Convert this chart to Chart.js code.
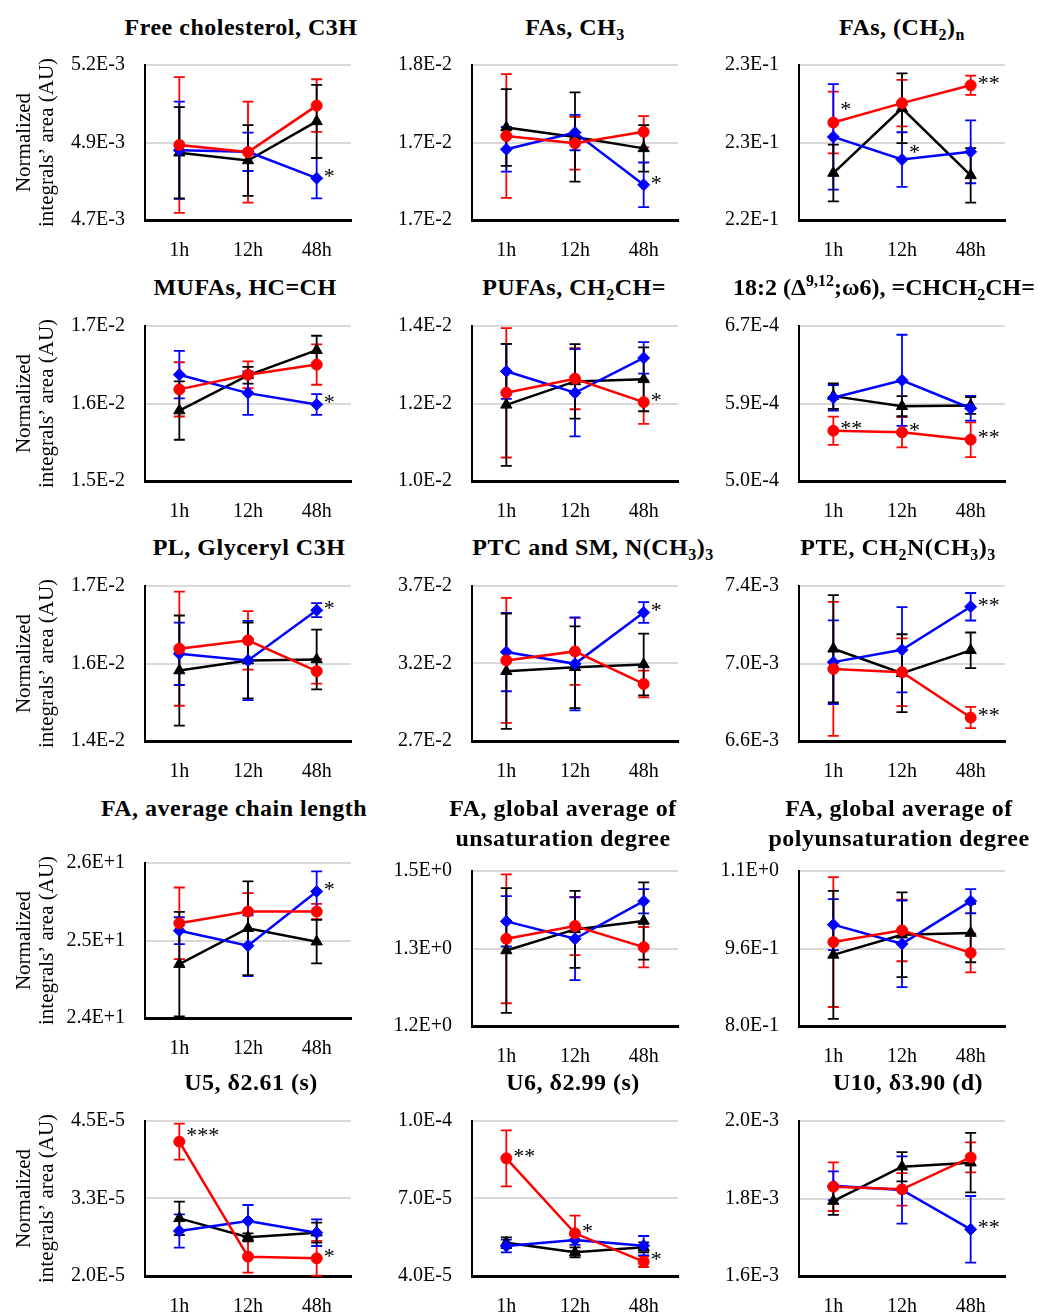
<!DOCTYPE html>
<html>
<head>
<meta charset="utf-8">
<script src="https://cdn.jsdelivr.net/npm/chart.js@4.4.1/dist/chart.umd.min.js"></script>
<style>
  body { margin: 0; background: #fff; width: 1039px; height: 1313px; position: relative; overflow: hidden; }
  .ttl { position: absolute; width: 400px; text-align: center; white-space: nowrap;
         font-family: "Liberation Serif", serif; font-weight: bold; font-size: 24px;
         letter-spacing: 0.5px; line-height: 30px; color: #000; }
  .ttl sub { font-size: 16px; vertical-align: -5px; line-height: 0; }
  .ttl sup { font-size: 16px; vertical-align: 9px; line-height: 0; }
  canvas { position: absolute; }
</style>
</head>
<body>
<script>
// categories and titles
const categories = ['1h', '12h', '48h'];
const panelTitles = [
  'Free cholesterol, C3H',
  'FAs, CH<sub>3</sub>',
  'FAs, (CH<sub>2</sub>)<sub>n</sub>',
  'MUFAs, HC=CH',
  'PUFAs, CH<sub>2</sub>CH=',
  '18:2 (Δ<sup>9,12</sup>;ω6), =CHCH<sub>2</sub>CH=',
  'PL, Glyceryl C3H',
  'PTC and SM, N(CH<sub>3</sub>)<sub>3</sub>',
  'PTE, CH<sub>2</sub>N(CH<sub>3</sub>)<sub>3</sub>',
  'FA, average chain length',
  'FA, global average of<br>unsaturation degree',
  'FA, global average of<br>polyunsaturation degree',
  'U5, δ2.61 (s)',
  'U6, δ2.99 (s)',
  'U10, δ3.90 (d)'
];
const axisTitle = ['Normalized', 'integrals’ area (AU)'];

// y axis ranges and tick labels (bottom, middle, top)
const yMin = [4.65e-3, 1.65e-2, 2.2e-1, 1.5e-2, 1.0e-2, 5.0e-4, 1.4e-2, 2.7e-2, 6.6e-3, 24, 1.2, 0.8, 2.0e-5, 4.0e-5, 1.6e-3];
const yMax = [5.15e-3, 1.75e-2, 2.3e-1, 1.7e-2, 1.4e-2, 6.7e-4, 1.7e-2, 3.7e-2, 7.4e-3, 26, 1.45, 1.12, 4.5e-5, 1.0e-4, 2.0e-3];
const yTickLabels = [
  ['4.7E-3', '4.9E-3', '5.2E-3'],
  ['1.7E-2', '1.7E-2', '1.8E-2'],
  ['2.2E-1', '2.3E-1', '2.3E-1'],
  ['1.5E-2', '1.6E-2', '1.7E-2'],
  ['1.0E-2', '1.2E-2', '1.4E-2'],
  ['5.0E-4', '5.9E-4', '6.7E-4'],
  ['1.4E-2', '1.6E-2', '1.7E-2'],
  ['2.7E-2', '3.2E-2', '3.7E-2'],
  ['6.6E-3', '7.0E-3', '7.4E-3'],
  ['2.4E+1', '2.5E+1', '2.6E+1'],
  ['1.2E+0', '1.3E+0', '1.5E+0'],
  ['8.0E-1', '9.6E-1', '1.1E+0'],
  ['2.0E-5', '3.3E-5', '4.5E-5'],
  ['4.0E-5', '7.0E-5', '1.0E-4'],
  ['1.6E-3', '1.8E-3', '2.0E-3']
];

// black triangles
const blackMean = [
  [4.867e-3, 4.842e-3, 4.968e-3],
  [1.7097e-2, 1.7036e-2, 1.6962e-2],
  [2.2303e-1, 2.2721e-1, 2.2288e-1],
  [1.5909e-2, 1.6364e-2, 1.6688e-2],
  [1.1965e-2, 1.2570e-2, 1.2623e-2],
  [5.931e-4, 5.820e-4, 5.828e-4],
  [1.5364e-2, 1.5558e-2, 1.5578e-2],
  [3.150e-2, 3.176e-2, 3.194e-2],
  [7.076e-3, 6.950e-3, 7.068e-3],
  [24.695, 25.158, 24.985],
  [1.3218, 1.3558, 1.3694],
  [0.9468, 0.9884, 0.9919],
  [2.930e-5, 2.624e-5, 2.699e-5],
  [5.29e-5, 4.916e-5, 5.11e-5],
  [1.7935e-3, 1.882e-3, 1.8925e-3]
];
const blackErr = [
  [0.147e-3, 0.114e-3, 0.118e-3],
  [0.0248e-2, 0.0288e-2, 0.015e-2],
  [0.0183e-1, 0.0225e-1, 0.0176e-1],
  [0.0377e-2, 0.0108e-2, 0.0186e-2],
  [0.1576e-2, 0.0961e-2, 0.0823e-2],
  [0.14e-4, 0.11e-4, 0.092e-4],
  [0.1065e-2, 0.0734e-2, 0.0578e-2],
  [0.372e-2, 0.264e-2, 0.199e-2],
  [0.277e-3, 0.201e-3, 0.092e-3],
  [0.674, 0.605, 0.281],
  [0.1006, 0.0622, 0.0622],
  [0.132, 0.0873, 0.0603],
  [0.269e-5, 0.065e-5, 0.161e-5],
  [0.206e-5, 0.19e-5, 0.19e-5],
  [0.036e-3, 0.0378e-3, 0.0766e-3]
];

// blue diamonds
const blueMean = [
  [4.875e-3, 4.870e-3, 4.785e-3],
  [1.6956e-2, 1.7064e-2, 1.6727e-2],
  [2.2536e-1, 2.2390e-1, 2.2440e-1],
  [1.6372e-2, 1.6134e-2, 1.5987e-2],
  [1.2831e-2, 1.2277e-2, 1.3177e-2],
  [5.913e-4, 6.104e-4, 5.798e-4],
  [1.5688e-2, 1.5558e-2, 1.6532e-2],
  [3.274e-2, 3.198e-2, 3.529e-2],
  [7.007e-3, 7.071e-3, 7.293e-3],
  [25.127, 24.933, 25.633],
  [1.3688, 1.3407, 1.4013],
  [1.0092, 0.9697, 1.0577],
  [2.726e-5, 2.887e-5, 2.699e-5],
  [5.161e-5, 5.394e-5, 5.174e-5],
  [1.833e-3, 1.8219e-3, 1.7204e-3]
];
const blueErr = [
  [0.157e-3, 0.062e-3, 0.065e-3],
  [0.0144e-2, 0.0114e-2, 0.0144e-2],
  [0.034e-1, 0.0176e-1, 0.0203e-1],
  [0.0307e-2, 0.0281e-2, 0.0134e-2],
  [0.071e-2, 0.1126e-2, 0.0407e-2],
  [0.14e-4, 0.50e-4, 0.136e-4],
  [0.0604e-2, 0.0766e-2, 0.0136e-2],
  [0.253e-2, 0.30e-2, 0.067e-2],
  [0.216e-3, 0.22e-3, 0.071e-3],
  [0.173, 0.393, 0.259],
  [0.0406, 0.0666, 0.0195],
  [0.0526, 0.0894, 0.0249],
  [0.269e-5, 0.258e-5, 0.215e-5],
  [0.245e-5, 0.19e-5, 0.374e-5],
  [0.037e-3, 0.0869e-3, 0.086e-3]
];

// red circles
const redMean = [
  [4.892e-3, 4.869e-3, 5.019e-3],
  [1.7042e-2, 1.6995e-2, 1.7069e-2],
  [2.2629e-1, 2.2754e-1, 2.2869e-1],
  [1.6182e-2, 1.6370e-2, 1.6502e-2],
  [1.2277e-2, 1.2640e-2, 1.2035e-2],
  [5.552e-4, 5.534e-4, 5.453e-4],
  [1.5786e-2, 1.5948e-2, 1.5351e-2],
  [3.220e-2, 3.278e-2, 3.068e-2],
  [6.972e-3, 6.955e-3, 6.721e-3],
  [25.222, 25.374, 25.374],
  [1.3407, 1.3613, 1.3272],
  [0.9732, 0.9974, 0.951],
  [4.167e-5, 2.312e-5, 2.285e-5],
  [8.555e-5, 5.652e-5, 4.555e-5],
  [1.8305e-3, 1.8237e-3, 1.906e-3]
];
const redErr = [
  [0.219e-3, 0.163e-3, 0.085e-3],
  [0.0399e-2, 0.017e-2, 0.0101e-2],
  [0.0199e-1, 0.015e-1, 0.0062e-1],
  [0.035e-2, 0.0173e-2, 0.026e-2],
  [0.167e-2, 0.0788e-2, 0.0563e-2],
  [0.155e-4, 0.166e-4, 0.191e-4],
  [0.1104e-2, 0.0565e-2, 0.024e-2],
  [0.403e-2, 0.216e-2, 0.0866e-2],
  [0.346e-3, 0.175e-3, 0.055e-3],
  [0.462, 0.238, 0.099],
  [0.104, 0.047, 0.0325],
  [0.134, 0.0637, 0.0402],
  [0.29e-5, 0.258e-5, 0.28e-5],
  [1.084e-5, 0.684e-5, 0.206e-5],
  [0.0628e-3, 0.042e-3, 0.0387e-3]
];

// significance marks: [series (0 black, 1 blue, 2 red), category index, text]
const stars = [
  [[1, 2, '*']],
  [[1, 2, '*']],
  [[2, 0, '*'], [1, 1, '*'], [2, 2, '**']],
  [[1, 2, '*']],
  [[2, 2, '*']],
  [[2, 0, '**'], [2, 1, '*'], [2, 2, '**']],
  [[1, 2, '*']],
  [[1, 2, '*']],
  [[1, 2, '**'], [2, 2, '**']],
  [[1, 2, '*']],
  [],
  [],
  [[2, 0, '***'], [2, 2, '*']],
  [[2, 0, '**'], [2, 1, '*'], [2, 2, '*']],
  [[1, 2, '**']]
];

// layout
const colLeft = [145, 472, 799];
const titleX = [241, 575, 902, 245, 574, 884, 249, 593, 898, 234, 563, 899, 251, 573, 908];
const rowTop = [65, 326, 586, 863, 1121];
const rowTitleY = [27, 287, 547, 808, 1082];
const PLOT_W = 206, PLOT_H = 155, PAD_TOP = 15, X_AXIS_H = 50, PAD_RIGHT = 30;
const FONT = 'Liberation Serif';
// extra upward shift (px) for marks that sit above a line: "panel:series:index"
const starRaise = { '2:2:0': 11, '2:1:1': 5, '12:2:0': 4 };

const seriesStyle = [
  { color: '#000000', point: 'triangle', radius: 6.5, order: 2 },
  { color: '#0000ff', point: 'rectRot', radius: 6, order: 1 },
  { color: '#ff0000', point: 'circle', radius: 5.5, order: 0 }
];

// vertical error bars with caps
const errorBars = {
  id: 'errorBars',
  beforeDatasetsDraw(chart) {
    const ctx = chart.ctx;
    const ys = chart.scales.y;
    ctx.save();
    ctx.lineWidth = 1.8;
    for (let d = chart.data.datasets.length - 1; d >= 0; d--) {
      const ds = chart.data.datasets[d];
      const meta = chart.getDatasetMeta(d);
      ctx.strokeStyle = ds.borderColor;
      ds.errors.forEach((e, i) => {
        const x = meta.data[i].x;
        const t = ys.getPixelForValue(ds.data[i] + e);
        const b = ys.getPixelForValue(ds.data[i] - e);
        ctx.beginPath();
        ctx.moveTo(x, t); ctx.lineTo(x, b);
        ctx.moveTo(x - 5.5, t); ctx.lineTo(x + 5.5, t);
        ctx.moveTo(x - 5.5, b); ctx.lineTo(x + 5.5, b);
        ctx.stroke();
      });
    }
    ctx.restore();
  }
};

function starPlugin(p) {
  return {
    id: 'starMarks',
    afterDatasetsDraw(chart) {
      const ctx = chart.ctx;
      ctx.save();
      ctx.fillStyle = '#000';
      ctx.font = '22px "' + FONT + '"';
      ctx.textAlign = 'left';
      ctx.textBaseline = 'middle';
      stars[p].forEach(([s, i, txt]) => {
        const pt = chart.getDatasetMeta(s).data[i];
        const lift = starRaise[p + ':' + s + ':' + i] || 0;
        ctx.fillText(txt, pt.x + 7, pt.y - 1 - lift);
      });
      ctx.restore();
    }
  };
}

const means = [blackMean, blueMean, redMean];
const errs = [blackErr, blueErr, redErr];

for (let p = 0; p < 15; p++) {
  const r = Math.floor(p / 3), c = p % 3;
  const top = rowTop[r] + (r === 3 && c > 0 ? 8 : 0);
  const axisW = c === 0 ? 145 : 95;
  const W = axisW + PLOT_W + PAD_RIGHT;
  const H = PAD_TOP + PLOT_H + X_AXIS_H;

  const title = document.createElement('div');
  title.className = 'ttl';
  title.innerHTML = panelTitles[p];
  title.style.left = (titleX[p] - 200) + 'px';
  title.style.top = (rowTitleY[r] - 15) + 'px';
  if (p === 5) title.style.letterSpacing = '0px';
  document.body.appendChild(title);

  const canvas = document.createElement('canvas');
  canvas.width = W;
  canvas.height = H;
  canvas.style.left = (colLeft[c] - axisW) + 'px';
  canvas.style.top = (top - PAD_TOP) + 'px';
  canvas.style.width = W + 'px';
  canvas.style.height = H + 'px';
  document.body.appendChild(canvas);

  const datasets = seriesStyle.map((st, s) => ({
    data: means[s][p],
    errors: errs[s][p],
    borderColor: st.color,
    backgroundColor: st.color,
    borderWidth: 2.5,
    pointStyle: st.point,
    pointRadius: st.radius,
    pointBackgroundColor: st.color,
    pointBorderColor: st.color,
    pointBorderWidth: 1,
    tension: 0,
    order: st.order
  }));

  const chart = new Chart(canvas, {
    type: 'line',
    data: { labels: categories, datasets },
    options: {
      responsive: false,
      animation: false,
      layout: { padding: { top: PAD_TOP, right: PAD_RIGHT, left: 0, bottom: 0 } },
      plugins: { legend: { display: false }, tooltip: { enabled: false } },
      scales: {
        x: {
          offset: true,
          grid: { display: false, drawTicks: false },
          border: { color: '#000', width: 3 },
          ticks: { padding: 19, color: '#000', font: { family: FONT, size: 20 } },
          afterFit: axis => {
            axis.height = X_AXIS_H;
            axis.paddingLeft = 0;
            axis.paddingRight = 0;
          }
        },
        y: {
          min: yMin[p],
          max: yMax[p],
          afterBuildTicks: axis => {
            axis.ticks = [yMin[p], (yMin[p] + yMax[p]) / 2, yMax[p]].map(v => ({ value: v }));
          },
          afterFit: axis => {
            axis.width = axisW;
            axis.paddingTop = 0;
            axis.paddingBottom = 0;
          },
          grid: {
            color: ctx => ctx.index === 0 ? 'rgba(0,0,0,0)' : '#d9d9d9',
            lineWidth: 2,
            drawTicks: false
          },
          border: { color: '#000', width: 2 },
          ticks: {
            padding: 20,
            color: '#000',
            font: { family: FONT, size: 20 },
            callback: (v, i) => yTickLabels[p][i]
          },
          title: c === 0
            ? { display: true, text: axisTitle, color: '#000', font: { family: FONT, size: 21, lineHeight: 1.1 }, padding: { top: 13 } }
            : { display: false }
        }
      }
    },
    plugins: [errorBars, starPlugin(p)]
  });

  // keep the plot area where the reference has it
  const area = chart.chartArea;
  canvas.style.top = (top - area.top) + 'px';
  canvas.style.left = (colLeft[c] - area.left) + 'px';
}
</script>
</body>
</html>
